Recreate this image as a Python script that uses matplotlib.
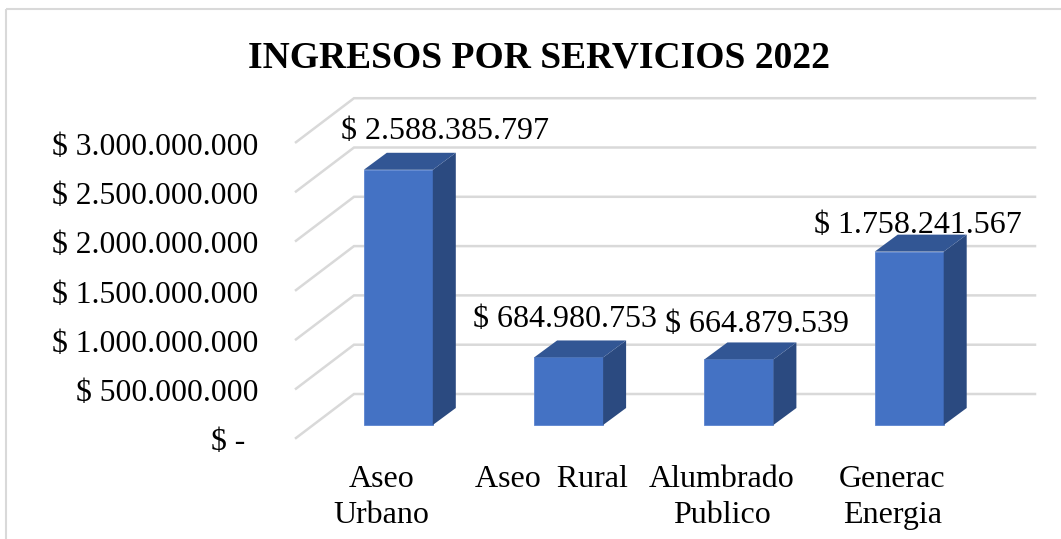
import matplotlib
matplotlib.use('Agg')
import matplotlib.pyplot as plt
from matplotlib.patches import Polygon, Rectangle

plt.rcParams['font.family'] = ['Liberation Serif', 'DejaVu Serif']

#-----------------------------------------------------------------
# Data
#-----------------------------------------------------------------
categories = ['Aseo\nUrbano', 'Aseo  Rural', 'Alumbrado\nPublico', 'Generac\nEnergia']
values = [2588385797, 684980753, 664879539, 1758241567]
value_labels = ['$ 2.588.385.797', '$ 684.980.753', '$ 664.879.539', '$ 1.758.241.567']
tick_values = [0, 500000000, 1000000000, 1500000000, 2000000000, 2500000000, 3000000000]
tick_labels = ['$ -', '$ 500.000.000', '$ 1.000.000.000', '$ 1.500.000.000',
               '$ 2.000.000.000', '$ 2.500.000.000', '$ 3.000.000.000']
title = 'INGRESOS POR SERVICIOS 2022'

#-----------------------------------------------------------------
# Scales: pixels per category and per unit of value
#-----------------------------------------------------------------
W, H = 1061, 539
x0_px, step_px = 398.3, 170.3
y0_px, per_unit = 425.0, 98.6 / 1e9

fig = plt.figure(figsize=(W / 100, H / 100), dpi=100)
ax = fig.add_axes([0, 0, 1, 1])
ax.set_xlim(-x0_px / step_px, (W - x0_px) / step_px)
ax.set_ylim(-(H - y0_px) / per_unit, y0_px / per_unit)
ax.axis('off')


def px_x(p):
    return p / step_px


def px_y(p):
    return p / per_unit


# chart border
ax.plot([(6 - x0_px) / step_px] * 2, [-(H - y0_px) / per_unit, (y0_px - 8.5) / per_unit],
        color='#d9d9d9', lw=1.5, solid_capstyle='butt')
ax.plot([(6 - x0_px) / step_px, (W - x0_px) / step_px], [(y0_px - 8.5) / per_unit] * 2,
        color='#d9d9d9', lw=1.5, solid_capstyle='butt')

#-----------------------------------------------------------------
# Grid on the back wall and the floor/left wall slants
#-----------------------------------------------------------------
wall_left = (354 - x0_px) / step_px
wall_right = (1035 - x0_px) / step_px
slant_left = (296 - x0_px) / step_px
for v in tick_values:
    y_back = v + px_y(31)
    y_front = v - px_y(13)
    ax.plot([slant_left, wall_left, wall_right], [y_front, y_back, y_back],
            color='#d9d9d9', lw=1.8, solid_joinstyle='miter', zorder=1)

#-----------------------------------------------------------------
# Bars (front, side and top faces)
#-----------------------------------------------------------------
half = px_x(34.5)
dx, dy = px_x(23), px_y(17)
for i, v in enumerate(values):
    ax.add_patch(Rectangle((i - half, 0), 2 * half, v, fc='#4472c4', ec='#5b84d0', lw=0.6, zorder=3))
    ax.add_patch(Polygon([(i + half, 0), (i + half + dx, dy), (i + half + dx, v + dy), (i + half, v)],
                         fc='#2b4a80', ec='none', zorder=3))
    ax.add_patch(Polygon([(i - half, v), (i + half, v), (i + half + dx, v + dy), (i - half + dx, v + dy)],
                         fc='#325694', ec='none', zorder=3))

#-----------------------------------------------------------------
# Text
#-----------------------------------------------------------------
label_offsets = [(47, 38), (-3.5, 38), (18, 35), (9, 26)]
for i, v in enumerate(values):
    off = label_offsets[i]
    ax.text(i + px_x(off[0]), v + px_y(off[1]), value_labels[i], ha='center', va='center',
            fontsize=23, color='black', zorder=5)

for v, lab in zip(tick_values, tick_labels):
    right = 258 if v > 0 else 245
    ax.text((right - x0_px) / step_px, v - px_y(18), lab, ha='right', va='center',
            fontsize=22.8, color='black')

for i, lab in enumerate(categories):
    ax.text(i - px_x(17), -px_y(40), lab, ha='center', va='top', fontsize=23,
            linespacing=1.33, color='black')

ax.text((539 - x0_px) / step_px, (y0_px - 58) / per_unit, title, ha='center', va='center',
        fontsize=27, fontweight='bold', color='black')

fig.savefig('out.png', dpi=100)
